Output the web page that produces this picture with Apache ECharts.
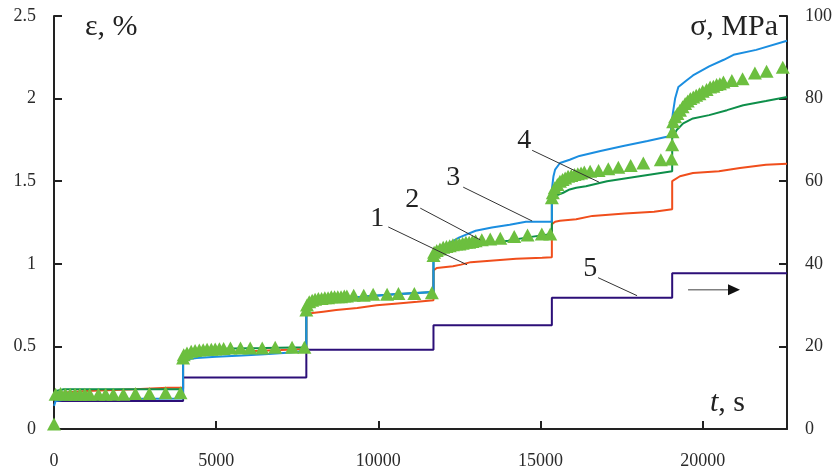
<!DOCTYPE html>
<html>
<head>
<meta charset="utf-8">
<script src="https://cdn.jsdelivr.net/npm/echarts@6/dist/echarts.min.js"></script>
<style>
  html, body { margin: 0; padding: 0; background: #fff; }
  #chart { width: 835px; height: 470px; }
</style>
</head>
<body>
<div id="chart"></div>
<script>
// Creep strain under stepwise loading: strain ε (%) vs time t (s), stress σ (MPa) on the right axis.

// Curve 1 — strain, [t (s), ε (%)]
const curve1Strain = [
  [0, 0.20], [200, 0.22], [1000, 0.23], [2500, 0.24], [3500, 0.25], [3980, 0.25],
  [3980, 0.43], [4200, 0.455], [5000, 0.465], [6000, 0.47], [7000, 0.478], [7780, 0.485],
  [7780, 0.685], [7900, 0.70], [8300, 0.71], [8700, 0.72], [9350, 0.733], [9950, 0.749],
  [10600, 0.76], [11200, 0.77], [11700, 0.78],
  [11700, 0.96], [11800, 0.975], [12300, 0.985], [12550, 0.995], [12850, 1.01], [13550, 1.02],
  [14250, 1.03], [15050, 1.037], [15350, 1.04],
  [15350, 1.24], [15450, 1.255], [15600, 1.26], [16100, 1.27], [16600, 1.29], [17600, 1.305],
  [18500, 1.315], [19060, 1.33],
  [19060, 1.50], [19300, 1.53], [19700, 1.55], [20500, 1.56], [21150, 1.58], [21950, 1.60], [22600, 1.605]
];

// Curve 2 — strain
const curve2Strain = [
  [0, 0.20], [60, 0.23], [300, 0.24], [3980, 0.24],
  [3980, 0.44], [4100, 0.47], [4600, 0.48], [5500, 0.487], [6500, 0.49], [7780, 0.495],
  [7780, 0.72], [7850, 0.75], [8000, 0.77], [8500, 0.785], [9500, 0.80], [10500, 0.815], [11700, 0.83],
  [11700, 1.03], [11800, 1.06], [12000, 1.08], [12500, 1.10], [13000, 1.115], [13500, 1.125],
  [14000, 1.14], [14600, 1.16], [15350, 1.18],
  [15350, 1.42], [15500, 1.415], [15700, 1.43], [15900, 1.45], [16100, 1.46], [16400, 1.47],
  [17050, 1.50], [18050, 1.53], [19060, 1.56],
  [19060, 1.76], [19200, 1.81], [19400, 1.85], [19700, 1.88], [20200, 1.90], [20750, 1.93],
  [21250, 1.96], [21950, 1.985], [22600, 2.01]
];

// Curve 3 — strain
const curve3Strain = [
  [0, 0.14], [50, 0.17], [400, 0.18], [3980, 0.185],
  [3980, 0.41], [4050, 0.42], [4400, 0.43], [5000, 0.438], [5800, 0.445], [6500, 0.452],
  [7300, 0.463], [7780, 0.474],
  [7780, 0.70], [7850, 0.74], [8000, 0.765], [8500, 0.78], [9500, 0.80], [10500, 0.815], [11700, 0.83],
  [11700, 1.04], [11800, 1.08], [11950, 1.10], [12150, 1.12], [12500, 1.16], [13000, 1.20],
  [13500, 1.22], [14050, 1.237], [14550, 1.255], [15350, 1.255],
  [15350, 1.45], [15400, 1.53], [15450, 1.57], [15600, 1.61], [15900, 1.63], [16200, 1.653],
  [16850, 1.683], [17550, 1.713], [18300, 1.743], [19000, 1.773], [19060, 1.78],
  [19080, 1.91], [19150, 2.0], [19250, 2.07], [19500, 2.11], [19700, 2.14], [20200, 2.195],
  [20650, 2.235], [20950, 2.265], [21650, 2.295], [22600, 2.35]
];

// Curve 4 — strain, measured points
const curve4Strain = [
  [0, 0.03], [50, 0.21], [200, 0.215], [350, 0.21], [500, 0.21], [650, 0.21], [800, 0.21],
  [950, 0.21], [1100, 0.21], [1370, 0.21], [1590, 0.21], [1830, 0.21], [2140, 0.21],
  [2510, 0.215], [2940, 0.215], [3440, 0.22], [3900, 0.22],
  [3980, 0.43], [4000, 0.45], [4100, 0.46], [4230, 0.47], [4350, 0.475], [4480, 0.478],
  [4600, 0.48], [4720, 0.482], [4850, 0.483], [4970, 0.485], [5100, 0.486], [5230, 0.488],
  [5440, 0.49], [5750, 0.49], [6050, 0.49], [6420, 0.49], [6820, 0.495], [7340, 0.495], [7720, 0.495],
  [7780, 0.72], [7800, 0.75], [7870, 0.77], [7960, 0.78], [8050, 0.785], [8150, 0.79],
  [8250, 0.79], [8350, 0.795], [8450, 0.795], [8550, 0.80], [8650, 0.80], [8750, 0.80],
  [8850, 0.80], [8950, 0.805], [9030, 0.805], [9240, 0.81], [9550, 0.81], [9840, 0.815],
  [10270, 0.815], [10620, 0.82], [11110, 0.82], [11650, 0.825],
  [11700, 1.05], [11720, 1.07], [11800, 1.08], [11900, 1.09], [12000, 1.10], [12100, 1.105],
  [12200, 1.11], [12300, 1.115], [12400, 1.12], [12500, 1.12], [12600, 1.125], [12700, 1.13],
  [12800, 1.13], [12900, 1.135], [13000, 1.14], [13190, 1.145], [13450, 1.15], [13760, 1.155],
  [14190, 1.165], [14600, 1.175], [15040, 1.18], [15300, 1.18],
  [15350, 1.40], [15380, 1.43], [15440, 1.46], [15520, 1.48], [15600, 1.50], [15680, 1.51],
  [15760, 1.52], [15850, 1.53], [15950, 1.535], [16050, 1.54], [16150, 1.545], [16250, 1.55],
  [16350, 1.555], [16530, 1.56], [16790, 1.565], [17090, 1.575], [17400, 1.585], [17780, 1.595],
  [18170, 1.61], [18710, 1.63], [19040, 1.635], [19060, 1.72],
  [19070, 1.80], [19090, 1.86], [19150, 1.89], [19220, 1.91], [19300, 1.93], [19380, 1.95],
  [19460, 1.97], [19540, 1.985], [19620, 2.0], [19710, 2.01], [19800, 2.02], [19900, 2.03],
  [20000, 2.045], [20120, 2.055], [20230, 2.07], [20330, 2.075], [20430, 2.085], [20530, 2.09],
  [20640, 2.10], [20900, 2.11], [21230, 2.12], [21610, 2.155], [21970, 2.165], [22470, 2.19]
];

// Curve 5 — applied stress, [t (s), σ (MPa)]
const stressSteps = [
  [0, 6.8], [3980, 6.8], [3980, 12.5], [7780, 12.5], [7780, 19.2], [11700, 19.2],
  [11700, 25.1], [15350, 25.1], [15350, 31.8], [19060, 31.8], [19060, 37.7], [22600, 37.7]
];

// Axis ticks
const timeTicks = [0, 5000, 10000, 15000, 20000];
const strainTicks = [0, 0.5, 1, 1.5, 2, 2.5];
const stressTicks = [0, 20, 40, 60, 80, 100];

const FONT = '"Liberation Serif", "Times New Roman", "DejaVu Serif", serif';
const INK = '#222';
const axisLine = { show: true, onZero: false, lineStyle: { color: INK, width: 2 } };
const axisTick = { show: true, inside: true, length: 8, lineStyle: { color: INK, width: 2 } };
const tickFont = { fontFamily: FONT, fontSize: 18, color: '#2a2a2a' };

const chart = echarts.init(document.getElementById('chart'), null, { renderer: 'canvas' });

const lineSeries = (name, data, color, yAxisIndex) => ({
  name, type: 'line', data, yAxisIndex: yAxisIndex || 0,
  showSymbol: false, symbol: 'none', smooth: false,
  lineStyle: { color, width: 2 }, itemStyle: { color },
  clip: true, animation: false
});

chart.setOption({
  animation: false,
  grid: { left: 54, right: 48, top: 16, bottom: 39 },
  xAxis: {
    type: 'value', min: 0, max: 22600, interval: 5000,
    axisLine, axisTick,
    axisLabel: Object.assign({ margin: 23, formatter: v => timeTicks.includes(v) ? String(v) : '' }, tickFont),
    splitLine: { show: false }
  },
  yAxis: [
    {
      type: 'value', position: 'left', min: 0, max: 2.5, interval: 0.5,
      axisLine, axisTick,
      axisLabel: Object.assign({ margin: 18, formatter: v => strainTicks.includes(v) ? String(v) : '' }, tickFont),
      splitLine: { show: false }
    },
    {
      type: 'value', position: 'right', min: 0, max: 100, interval: 20,
      axisLine, axisTick,
      axisLabel: Object.assign({ margin: 18, formatter: v => stressTicks.includes(v) ? String(v) : '' }, tickFont),
      splitLine: { show: false }
    }
  ],
  series: [
    lineSeries('5', stressSteps, '#2c0f78', 1),
    lineSeries('1', curve1Strain, '#f04e1c'),
    lineSeries('2', curve2Strain, '#0e8f4a'),
    lineSeries('3', curve3Strain, '#1b8ee0'),
    {
      name: '4', type: 'scatter', data: curve4Strain,
      symbol: 'triangle', symbolSize: [14, 13],
      itemStyle: { color: '#6cbf3f', opacity: 1 },
      z: 3, animation: false
    }
  ]
});

// Curve numbers with leader lines, placed in data coordinates (t, ε)
const callouts = [
  { text: '1', at: [9967, 1.271], from: [10306, 1.223], to: [12737, 0.994] },
  { text: '2', at: [11046, 1.39], from: [11292, 1.337], to: [13141, 1.145] },
  { text: '3', at: [12309, 1.524], from: [12617, 1.464], to: [14743, 1.259] },
  { text: '4', at: [14496, 1.747], from: [14743, 1.687], to: [16807, 1.494] },
  { text: '5', at: [16530, 0.97], from: [16776, 0.916], to: [17978, 0.807] }
];
const px = p => chart.convertToPixel({ xAxisIndex: 0, yAxisIndex: 0 }, p);

const graphics = [];
callouts.forEach(c => {
  const a = px(c.at), f = px(c.from), t = px(c.to);
  graphics.push({
    type: 'line', silent: true, z: 10,
    shape: { x1: f[0], y1: f[1], x2: t[0], y2: t[1] },
    style: { stroke: '#333', lineWidth: 1 }
  });
  graphics.push({
    type: 'text', silent: true, z: 10, x: a[0], y: a[1],
    style: { text: c.text, font: '28px ' + FONT, fill: INK, align: 'center', verticalAlign: 'middle' }
  });
});

// Arrow pointing to the stress axis
const arrowFrom = px([19549, 0.843]);
const arrowTip = px([21151, 0.843]);
graphics.push({
  type: 'line', silent: true, z: 10,
  shape: { x1: arrowFrom[0], y1: arrowFrom[1], x2: arrowTip[0] - 10, y2: arrowTip[1] },
  style: { stroke: '#808080', lineWidth: 1.5 }
});
graphics.push({
  type: 'polygon', silent: true, z: 10,
  shape: { points: [[arrowTip[0], arrowTip[1]], [arrowTip[0] - 12, arrowTip[1] - 5.5], [arrowTip[0] - 12, arrowTip[1] + 5.5]] },
  style: { fill: '#111' }
});

// Axis titles
graphics.push({
  type: 'text', silent: true, x: 85, y: 27,
  style: { text: 'ε, %', font: '30px ' + FONT, fill: INK, align: 'left', verticalAlign: 'middle' }
});
graphics.push({
  type: 'text', silent: true, x: 778, y: 27,
  style: { text: 'σ, MPa', font: '30px ' + FONT, fill: INK, align: 'right', verticalAlign: 'middle' }
});
graphics.push({
  type: 'text', silent: true, x: 745, y: 403,
  style: {
    text: '{i|t}, s', font: '30px ' + FONT, fill: INK, align: 'right', verticalAlign: 'middle',
    rich: { i: { font: 'italic 30px ' + FONT, fill: INK } }
  }
});

chart.setOption({ graphic: graphics });
</script>
</body>
</html>
